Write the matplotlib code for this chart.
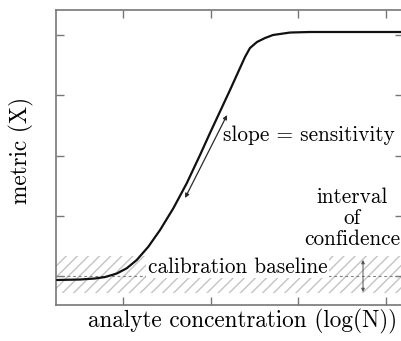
import matplotlib
matplotlib.use("Agg")
import matplotlib.pyplot as plt

plt.rcParams["font.family"] = "serif"
plt.rcParams["font.serif"] = ["cmr10", "DejaVu Serif"]
plt.rcParams["mathtext.fontset"] = "cm"
plt.rcParams["axes.unicode_minus"] = False

# calibration curve: metric vs log concentration
conc = [0.246, 0.509, 0.680, 0.794, 0.928, 1.042, 1.157, 1.289, 1.423, 1.575,
        1.728, 1.880, 1.994, 2.223, 2.394, 2.451, 2.531, 2.623, 2.714, 2.909,
        3.137, 4.2]
metric = [0.934, 0.942, 0.959, 0.983, 1.041, 1.128, 1.266, 1.486, 1.763, 2.124,
          2.539, 3.008, 3.373, 4.087, 4.635, 4.784, 4.884, 4.950, 5.000, 5.041,
          5.050, 5.050]

baseline = 1.0
band_lo, band_hi = 0.718, 1.332
x_ticks = [1, 2, 3, 4]
y_ticks = [1, 2, 3, 4, 5]
slope_arrow = [(2.189, 3.672), (1.709, 2.295)]
ci_arrow_x = 3.743
ci_arrow_y = [1.266, 0.734]

fig = plt.figure(figsize=(4.02, 3.41), dpi=100)
ax = fig.add_axes([56 / 402, 1 - 305 / 341, 347 / 402, 295 / 341])
ax.set_xlim(0.234, 4.2)
ax.set_ylim(0.519, 5.415)

# confidence band around the baseline
ax.fill_between([0.234, 4.2], band_lo, band_hi, facecolor="white",
                edgecolor="#c4c4c4", hatch="///", linewidth=0, zorder=1)
ax.axhline(baseline, color="#808080", ls=(0, (2.5, 2.5)), lw=0.8, zorder=2)

ax.plot(conc, metric, color="#111111", lw=1.6, zorder=4,
        solid_capstyle="round", solid_joinstyle="round")

ax.annotate("", xy=slope_arrow[0], xytext=slope_arrow[1],
            arrowprops=dict(arrowstyle="<|-|>", color="#2a2a2a", lw=0.9,
                            mutation_scale=6, shrinkA=0, shrinkB=0))
ax.annotate("", xy=(ci_arrow_x, ci_arrow_y[0]), xytext=(ci_arrow_x, ci_arrow_y[1]),
            arrowprops=dict(arrowstyle="<|-|>", color="#555555", lw=0.7,
                            mutation_scale=5, shrinkA=0, shrinkB=0), zorder=3)

ax.text(2.143, 3.34, "slope = sensitivity", fontsize=15.3, ha="left", va="center")
ax.text(2.314, 1.15, "calibration baseline", fontsize=15.3, ha="center",
        va="center", zorder=3,
        bbox=dict(facecolor="white", edgecolor="none", pad=1.2))
ax.text(3.617, 1.96, "interval\nof\nconfidence", fontsize=15.3, ha="center",
        va="center", multialignment="center", linespacing=1.1)

ax.set_xticks(x_ticks)
ax.set_yticks(y_ticks)
ax.set_xticklabels([])
ax.set_yticklabels([])
ax.tick_params(direction="in", length=6, width=1, color="#777777",
               top=True, right=True)
for s in ax.spines.values():
    s.set_color("#777777")
    s.set_linewidth(1.2)

ax.set_xlabel("analyte concentration (log(N))", fontsize=16.7)
ax.set_ylabel("metric (X)", fontsize=16.7)
ax.xaxis.set_label_coords(0.537, -0.015)
ax.yaxis.set_label_coords(-0.064, 0.525)

fig.savefig("out.png", dpi=100)
